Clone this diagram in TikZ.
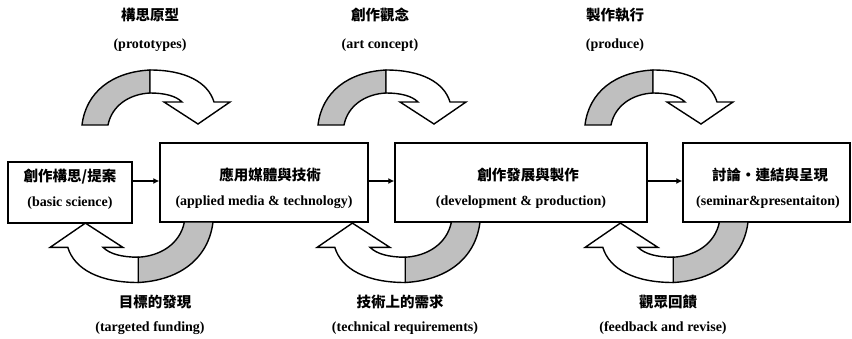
\documentclass[tikz,border=0pt]{standalone}
\usepackage{fontspec}
\setmainfont{Liberation Serif}
\newfontfamily\cjk{Noto Sans CJK TC}
\usetikzlibrary{arrows.meta}

\tikzset{
  stagebox/.style={draw, line width=1.4pt, fill=white, align=center, inner sep=0pt},
  zhtext/.style={font=\cjk\bfseries\fontsize{14.5}{16}\selectfont},
  entext/.style={font=\bfseries\fontsize{14}{16}\selectfont},
  flow/.style={line width=1.8pt, -{Latex[length=6pt,width=6pt]}},
  tailpart/.style={draw, line width=1.4pt, fill=gray!50},
  headpart/.style={draw, line width=1.4pt, fill=white}
}

% curved loop arrow, tail at the local origin
\newcommand{\looparrow}{%
  \draw[tailpart] (0,0) .. controls (4,-33) and (30,-53) .. (68,-55)
    -- (68,-32) .. controls (48,-31) and (30,-20) .. (26,0) -- cycle;
  \draw[headpart] (68,-55) .. controls (103,-55) and (126,-43) .. (132,-23)
    -- (148,-23) -- (116,-1) -- (82,-23) -- (100,-23)
    .. controls (94,-29) and (83,-32) .. (68,-32) -- cycle;
}

\begin{document}
\begin{tikzpicture}[x=1pt,y=-1pt]
\useasboundingbox (0,0) rectangle (852,338);

% Stages
\node[stagebox, minimum width=124pt, minimum height=61pt] (basic) at (70,192.5) {};
\node[stagebox, minimum width=208pt, minimum height=79pt] (applied) at (264,182.5) {};
\node[stagebox, minimum width=252pt, minimum height=79pt] (develop) at (521,182.5) {};
\node[stagebox, minimum width=167pt, minimum height=79pt] (seminar) at (766.5,182.5) {};

\node[zhtext] (basicZh) at (70,177) {創作構思/提案};
\node[entext] (basicEn) at (70,203) {(basic science)};
\node[zhtext] (appliedZh) at (270,175) {應用媒體與技術};
\node[entext] (appliedEn) at (264,202) {(applied media \& technology)};
\node[zhtext] (developZh) at (528,175) {創作發展與製作};
\node[entext] (developEn) at (521,202) {(development \& production)};
\node[zhtext] (seminarZh) at (770,175) {討論・連結與呈現};
\node[entext] (seminarEn) at (768,202) {(seminar\&presentaiton)};

% Flow
\draw[flow] (basic.east |- 0,181) -- (applied.west |- 0,181);
\draw[flow] (applied.east |- 0,181) -- (develop.west |- 0,181);
\draw[flow] (develop.east |- 0,181) -- (seminar.west |- 0,181);

% Loops above
\begin{scope}[shift={(82,125)}] \looparrow \end{scope}
\begin{scope}[shift={(318,125)}] \looparrow \end{scope}
\begin{scope}[shift={(585,125)}] \looparrow \end{scope}

% Loops below
\begin{scope}[shift={(213,222)}, rotate=180, scale=1.1] \looparrow \end{scope}
\begin{scope}[shift={(480,222)}, rotate=180, scale=1.1] \looparrow \end{scope}
\begin{scope}[shift={(748,222)}, rotate=180, scale=1.1] \looparrow \end{scope}

% Labels above
\node[zhtext] (protoZh) at (150,15) {構思原型};
\node[entext] (protoEn) at (150,45) {(prototypes)};
\node[zhtext] (artZh) at (380,15) {創作觀念};
\node[entext] (artEn) at (380,45) {(art concept)};
\node[zhtext] (produceZh) at (615,15) {製作執行};
\node[entext] (produceEn) at (615,45) {(produce)};

% Labels below
\node[zhtext] (fundZh) at (155,302) {目標的發現};
\node[entext] (fundEn) at (150,328) {(targeted funding)};
\node[zhtext] (techZh) at (400,302) {技術上的需求};
\node[entext] (techEn) at (405,328) {(technical requirements)};
\node[zhtext] (feedZh) at (668,302) {觀眾回饋};
\node[entext] (feedEn) at (663,328) {(feedback and revise)};
\end{tikzpicture}
\end{document}
